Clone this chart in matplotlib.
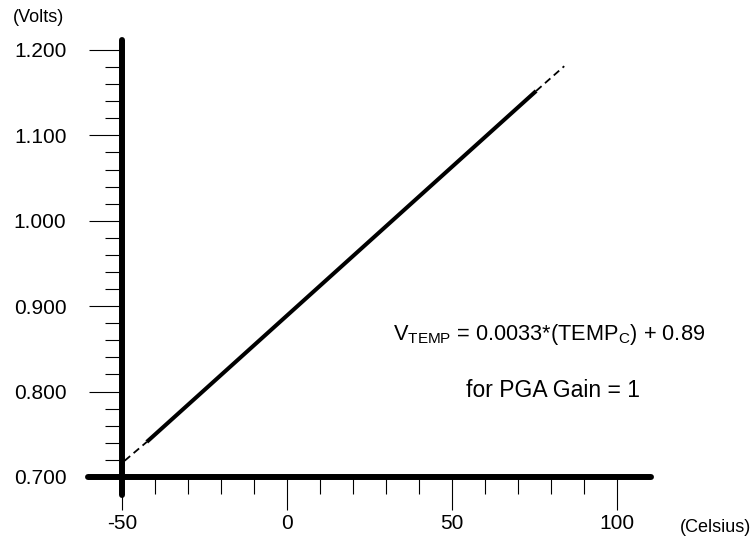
import matplotlib
matplotlib.use("Agg")
import matplotlib.pyplot as plt
from matplotlib.ticker import FixedLocator, FormatStrFormatter

plt.rcParams["font.family"] = ["Liberation Sans", "DejaVu Sans"]
plt.rcParams["mathtext.fontset"] = "custom"
plt.rcParams["mathtext.rm"] = "Liberation Sans"
plt.rcParams["mathtext.it"] = "Liberation Sans:italic"
plt.rcParams["axes.unicode_minus"] = False

# ── data ─────────────────────────────────────────────────────────────────────
temp_solid = [-42.5, 75.5]
volts_solid = [0.741, 1.152]
temp_dash_lo = [-49.2, -42.5]
volts_dash_lo = [0.719, 0.741]
temp_dash_hi = [75.5, 84.0]
volts_dash_hi = [1.152, 1.181]

x_major = [-50, 0, 50, 100]
x_minor = [-40, -30, -20, -10, 10, 20, 30, 40, 60, 70, 80, 90]
y_major = [0.7, 0.8, 0.9, 1.0, 1.1, 1.2]
y_minor = [0.72, 0.74, 0.76, 0.78, 0.82, 0.84, 0.86, 0.88,
           0.92, 0.94, 0.96, 0.98, 1.02, 1.04, 1.06, 1.08,
           1.12, 1.14, 1.16, 1.18]

# ── figure ───────────────────────────────────────────────────────────────────
fig = plt.figure(figsize=(7.51, 5.37), dpi=100)
ax = fig.add_axes([0, 0, 1, 1])
ax.set_xlim(-86.97, 140.6)
ax.set_ylim(0.6297, 1.2585)
ax.patch.set_visible(False)

ax.plot(temp_solid, volts_solid, color="black", lw=2.9, solid_capstyle="butt", zorder=3)
ax.plot(temp_dash_lo, volts_dash_lo, color="black", lw=1.3, dashes=(4, 2.5), zorder=3)
ax.plot(temp_dash_hi, volts_dash_hi, color="black", lw=1.3, dashes=(4, 2.5), zorder=3)

# axes as thick lines crossing at (-50, 0.7)
for s in ["top", "right"]:
    ax.spines[s].set_visible(False)
ax.spines["left"].set_position(("data", -50))
ax.spines["bottom"].set_position(("data", 0.7))
ax.spines["left"].set_bounds(0.679, 1.212)
ax.spines["bottom"].set_bounds(-60.3, 110.3)
for s in ["left", "bottom"]:
    ax.spines[s].set_linewidth(4.3)
    ax.spines[s].set_capstyle("round")
    ax.spines[s].set_zorder(4)

ax.xaxis.set_major_locator(FixedLocator(x_major))
ax.xaxis.set_minor_locator(FixedLocator(x_minor))
ax.yaxis.set_major_locator(FixedLocator(y_major))
ax.yaxis.set_minor_locator(FixedLocator(y_minor))
ax.yaxis.set_major_formatter(FormatStrFormatter("%.3f"))
ax.tick_params(which="major", direction="out", length=24, width=0.8, labelsize=15)
ax.tick_params(which="minor", direction="out", length=12, width=0.8)
ax.tick_params(axis="y", which="major", pad=16)
ax.tick_params(axis="x", which="major", pad=3)

fig.text(13 / 751, 1 - 17 / 537, "(Volts)", fontsize=13, va="center", ha="left")
fig.text(680 / 751, 1 - 528 / 537, "(Celsius)", fontsize=13, va="center", ha="left")

ax.text(79.4, 0.8674, r"V$_{\mathrm{TEMP}}$ = 0.0033*(TEMP$_{\mathrm{C}}$) + 0.89",
        fontsize=15.7, ha="center", va="center")
ax.text(80.6, 0.8007, "for PGA Gain = 1", fontsize=16.5, ha="center", va="center")

fig.savefig("out.png", dpi=100, facecolor="white")
